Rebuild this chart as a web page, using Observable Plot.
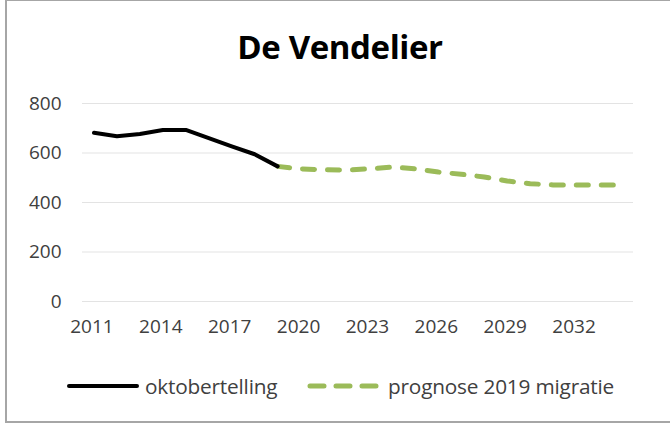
<!DOCTYPE html>
<html>
<head>
<meta charset="utf-8">
<script src="https://cdn.jsdelivr.net/npm/d3@7"></script>
<script src="https://cdn.jsdelivr.net/npm/@observablehq/plot@0.6"></script>
<style>
  html, body { margin: 0; padding: 0; background: #fff; overflow: hidden; }
  #wrap { position: relative; width: 670px; height: 430px; overflow: hidden; font-family: "Open Sans", sans-serif; }
  #frame { position: absolute; left: 5px; top: -1px; width: 700px; height: 424px; border: 2px solid #a6a6a6; border-right: none; box-sizing: border-box; }
  #title { position: absolute; left: 0; width: 680px; top: 30px; line-height: 33px; text-align: center; font-size: 33px; font-weight: 700; color: #000; letter-spacing: -0.4px; }
  #chart { position: absolute; left: 0; top: 0; }
  .leg { position: absolute; top: 372px; height: 28px; display: flex; align-items: center; font-size: 20.8px; color: #404040; letter-spacing: -0.2px; }
  .leg svg { margin-right: 5px; }
</style>
</head>
<body>
<div id="wrap">
  <div id="frame"></div>
  <div id="chart"></div>
  <div id="title"></div>
  <div class="leg" id="leg1" style="left:66px"></div>
  <div class="leg" id="leg2" style="left:305px"></div>
</div>
<script>
const titleText = "De Vendelier";
const histYears = [2011, 2012, 2013, 2014, 2015, 2016, 2017, 2018, 2019];
const histValues = [682, 668, 677, 693, 693, 660, 627, 595, 546];
const progYears = [2019, 2020, 2021, 2022, 2023, 2024, 2025, 2026, 2027, 2028, 2029, 2030, 2031, 2032, 2033, 2034];
const progValues = [546, 536, 532, 531, 536, 543, 536, 523, 514, 503, 487, 476, 471, 471, 471, 471];
const xTicks = [2011, 2014, 2017, 2020, 2023, 2026, 2029, 2032];
const yTicks = [0, 200, 400, 600, 800];
const seriesNames = ["oktobertelling", "prognose 2019 migratie"];

const hist = histYears.map((y, i) => ({year: y, value: histValues[i]}));
const prog = progYears.map((y, i) => ({year: y, value: progValues[i]}));

const chart = Plot.plot({
  width: 670,
  height: 430,
  marginLeft: 82,
  marginRight: 37,
  marginTop: 103,
  marginBottom: 129,
  style: {fontFamily: "Open Sans, sans-serif", fontSize: "19px", color: "#404040", background: "transparent"},
  x: {domain: [2010.5, 2034.5], label: null},
  y: {domain: [0, 800], label: null},
  marks: [
    Plot.ruleY(yTicks, {stroke: "#e3e3e3", strokeWidth: 1}),
    Plot.axisX({ticks: xTicks, tickFormat: d => String(d), tickSize: 0, tickPadding: 18, dx: -2, fill: "#404040", fontSize: 19, label: null}),
    Plot.axisY({ticks: yTicks, tickSize: 0, tickPadding: 21, fill: "#404040", fontSize: 19, label: null}),
    Plot.line(prog, {x: "year", y: "value", stroke: "#9bbb59", strokeWidth: 5, strokeDasharray: "12,13", strokeLinecap: "round"}),
    Plot.line(hist, {x: "year", y: "value", stroke: "#000", strokeWidth: 4, strokeLinecap: "round", strokeLinejoin: "round"})
  ]
});
document.getElementById("chart").appendChild(chart);
document.getElementById("title").textContent = titleText;

document.getElementById("leg1").innerHTML =
  '<svg width="74" height="10"><line x1="3" y1="5" x2="71" y2="5" stroke="#000" stroke-width="4" stroke-linecap="round"/></svg><span>' + seriesNames[0] + '</span>';
document.getElementById("leg2").innerHTML =
  '<svg width="78" height="10"><line x1="5" y1="5" x2="74" y2="5" stroke="#9bbb59" stroke-width="5" stroke-dasharray="14,12" stroke-linecap="round"/></svg><span>' + seriesNames[1] + '</span>';
</script>
</body>
</html>
